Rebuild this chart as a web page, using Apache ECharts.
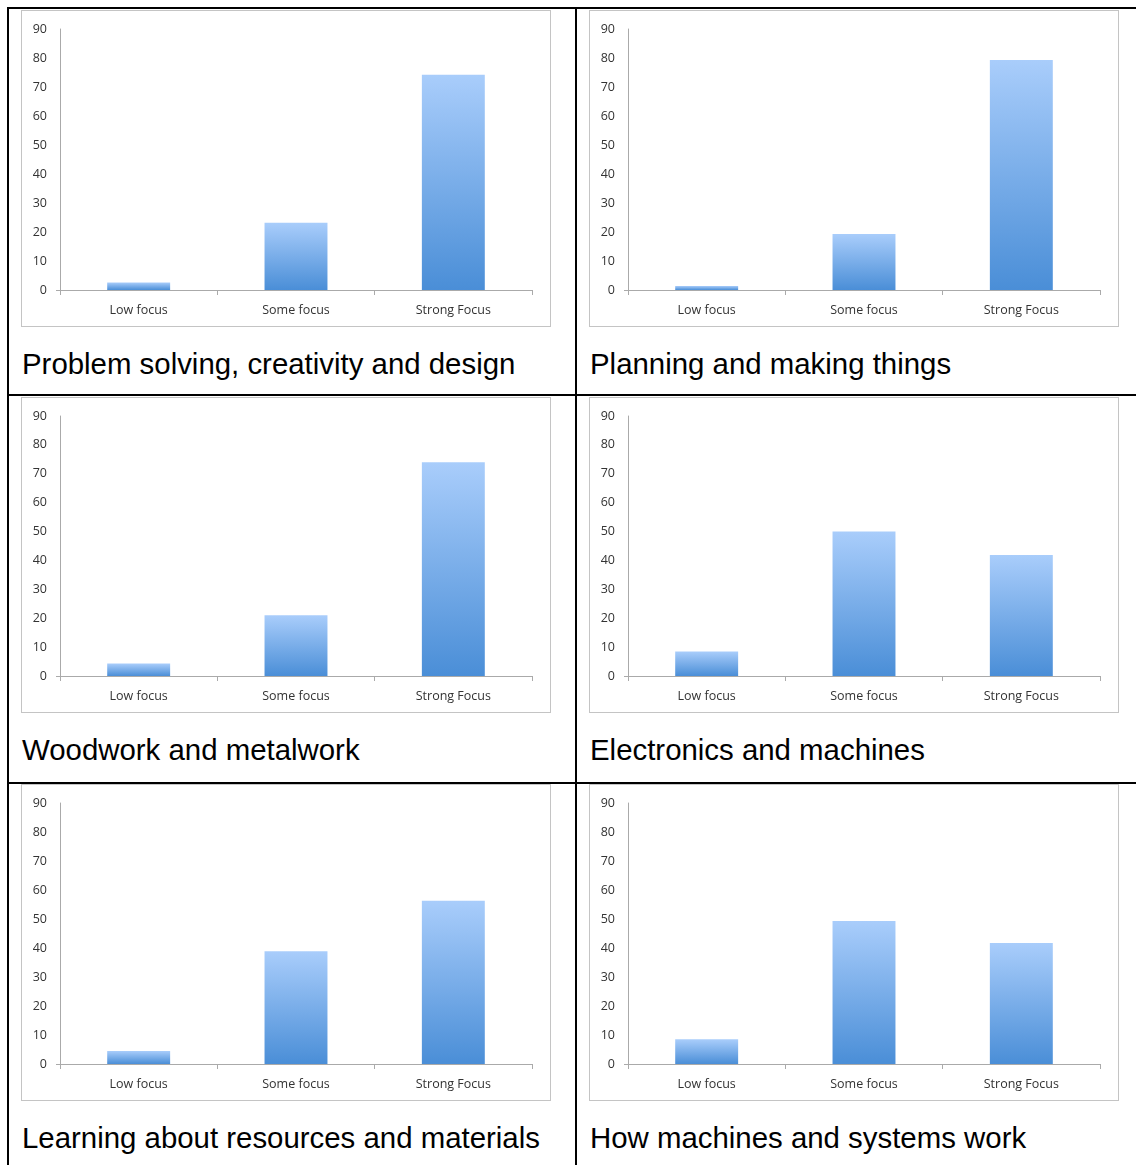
<!DOCTYPE html>
<html>
<head>
<meta charset="utf-8">
<script src="https://cdn.jsdelivr.net/npm/echarts@6/dist/echarts.min.js"></script>
<style>
  body { margin: 0; background: #fff; width: 1136px; height: 1165px; overflow: hidden; position: relative; }
  .rule { position: absolute; background: #000; }
  .box { position: absolute; width: 530px; border: 1px solid #c4c4c4; box-sizing: border-box; background: #fff; }
  .box .chart { width: 100%; height: 100%; }
  .caption { position: absolute; font-family: 'Liberation Sans', Arial, sans-serif; font-size: 29.4px; line-height: 29px; color: #000; white-space: nowrap; }
</style>
</head>
<body>
<!-- table rules -->
<div class="rule" style="left:7px; top:7px; width:1129px; height:2px;"></div>
<div class="rule" style="left:7px; top:394px; width:1129px; height:2px;"></div>
<div class="rule" style="left:7px; top:782px; width:1129px; height:2px;"></div>
<div class="rule" style="left:7px; top:7px; width:2px; height:1158px;"></div>
<div class="rule" style="left:575px; top:7px; width:2px; height:1158px;"></div>

<div id="cells"></div>

<script>
const categories = ['Low focus', 'Some focus', 'Strong Focus']
const yMax = 90
const yInterval = 10

const captions = [
  'Problem solving, creativity and design',
  'Planning and making things',
  'Woodwork and metalwork',
  'Electronics and machines',
  'Learning about resources and materials',
  'How machines and systems work'
]

const problemSolving = [2.6, 23.2, 74.2]
const planningMaking = [1.4, 19.3, 79.3]
const woodMetal = [4.3, 21.0, 74.0]
const electronics = [8.5, 50.0, 41.9]
const resources = [4.5, 38.9, 56.3]
const machinesSystems = [8.5, 49.3, 41.7]

const seriesData = [problemSolving, planningMaking, woodMetal, electronics, resources, machinesSystems]

// cell placement
const colLeft = [21, 589]
const rowTop = [10, 397, 784]
const boxHeight = [317, 316, 317]

const cells = document.getElementById('cells')

seriesData.forEach((values, i) => {
  const col = i % 2
  const row = Math.floor(i / 2)

  const box = document.createElement('div')
  box.className = 'box'
  box.style.left = colLeft[col] + 'px'
  box.style.top = rowTop[row] + 'px'
  box.style.height = boxHeight[row] + 'px'
  const el = document.createElement('div')
  el.className = 'chart'
  box.appendChild(el)
  cells.appendChild(box)

  const cap = document.createElement('div')
  cap.className = 'caption'
  cap.textContent = captions[i]
  cap.style.left = (colLeft[col] + 1) + 'px'
  cap.style.top = (rowTop[row] + boxHeight[row] + 22) + 'px'
  cells.appendChild(cap)

  const chart = echarts.init(el)
  chart.setOption({
    animation: false,
    grid: { left: 38, right: 18, top: 18, bottom: 36 },
    xAxis: {
      type: 'category',
      data: categories,
      axisLine: { lineStyle: { color: '#aaaaaa', width: 1 } },
      axisTick: { show: true, length: 5, lineStyle: { color: '#aaaaaa' } },
      axisLabel: { color: '#333', fontFamily: 'Open Sans', fontSize: 12.5, margin: 14 }
    },
    yAxis: {
      type: 'value',
      min: 0,
      max: yMax,
      interval: yInterval,
      axisLine: { show: true, lineStyle: { color: '#aaaaaa', width: 1 } },
      axisTick: { show: true, length: 4, customValues: [0], lineStyle: { color: '#aaaaaa' } },
      axisLabel: { color: '#333', fontFamily: 'Open Sans', fontSize: 12.5, margin: 13, padding: [2, 0, 0, 0] },
      splitLine: { lineStyle: { color: '#b0b0b0', width: 1 } }
    },
    series: [{
      type: 'bar',
      data: values,
      barWidth: '40%',
      itemStyle: {
        color: new echarts.graphic.LinearGradient(0, 0, 0, 1, [
          { offset: 0, color: '#a9cdfb' },
          { offset: 1, color: '#4a8ed7' }
        ])
      }
    }]
  })
})
</script>
</body>
</html>
